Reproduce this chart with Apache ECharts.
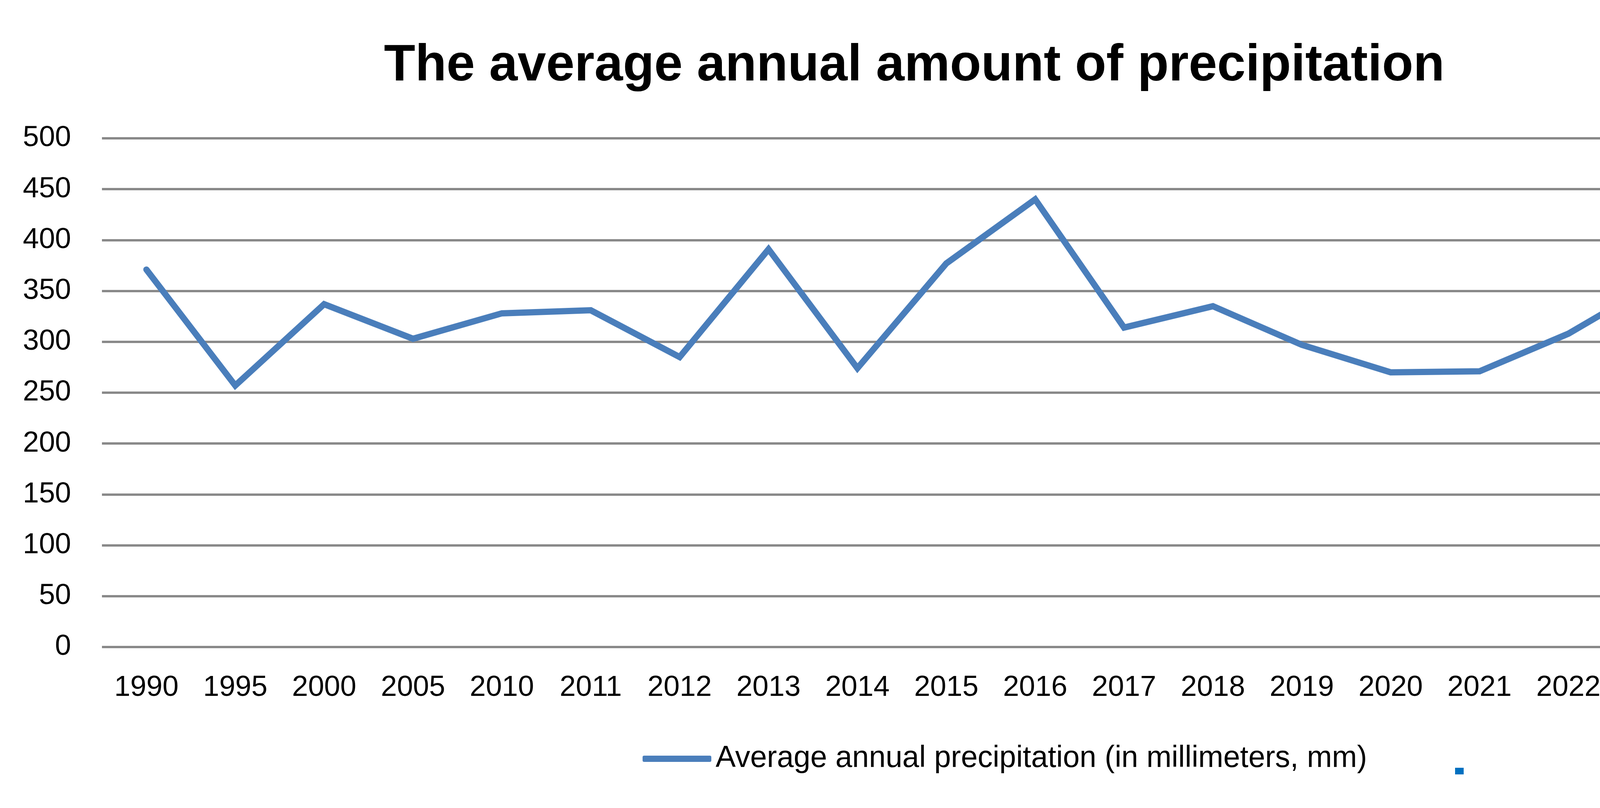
<!DOCTYPE html>
<html>
<head>
<meta charset="utf-8">
<script src="https://cdn.jsdelivr.net/npm/echarts@6/dist/echarts.min.js"></script>
<style>
html,body{margin:0;padding:0;background:#fff;}
#chart{width:4681px;height:2068px;}
</style>
</head>
<body>
<div id="chart"></div>
<script>
const years = ['1990','1995','2000','2005','2010','2011','2012','2013','2014','2015','2016','2017','2018','2019','2020','2021','2022','2023','2024'];
const precipitation = [371, 257, 337, 303, 328, 331, 285, 391, 274, 377, 440, 314, 335, 297, 270, 271, 308, 359, 392];
const seriesName = 'Average annual precipitation (in millimeters, mm)';
const chartTitle = 'The average annual amount of precipitation';

const FONT = '"Liberation Sans", Arial, sans-serif';
const chart = echarts.init(document.getElementById('chart'));
chart.setOption({
  backgroundColor: '#ffffff',
  animation: false,
  title: {
    text: chartTitle,
    left: 'center',
    top: 85,
    textStyle: { fontFamily: FONT, fontSize: 131, fontWeight: 'bold', color: '#000', lineHeight: 160 }
  },
  legend: {
    left: 1640,
    top: 1892,
    icon: 'roundRect',
    itemWidth: 176,
    itemHeight: 16,
    textStyle: { fontFamily: FONT, fontSize: 77, color: '#000', lineHeight: 90, padding: [0, 0, 0, 6] },
    data: [seriesName]
  },
  grid: { left: 261, right: 97, top: 354, bottom: 412, containLabel: false },
  xAxis: {
    type: 'category',
    data: years,
    boundaryGap: true,
    axisLine: { show: false },
    axisTick: { show: false },
    axisLabel: { fontFamily: FONT, fontSize: 74, color: '#000', margin: 65, lineHeight: 80, interval: 0 }
  },
  yAxis: {
    type: 'value',
    min: 0,
    max: 500,
    interval: 50,
    axisLine: { show: false },
    axisTick: { show: false },
    axisLabel: { fontFamily: FONT, fontSize: 74, color: '#000', margin: 79 },
    splitLine: { show: true, lineStyle: { color: '#898989', width: 6 } }
  },
  series: [{
    name: seriesName,
    type: 'line',
    data: precipitation,
    symbol: 'none',
    smooth: false,
    itemStyle: { color: '#4a7ebb' },
    lineStyle: { color: '#4a7ebb', width: 16, cap: 'round', join: 'miter' }
  }],
  graphic: [{
    type: 'rect',
    shape: { x: 3725, y: 1965, width: 22, height: 17 },
    style: { fill: '#0070c0' }
  }]
});
</script>
</body>
</html>
